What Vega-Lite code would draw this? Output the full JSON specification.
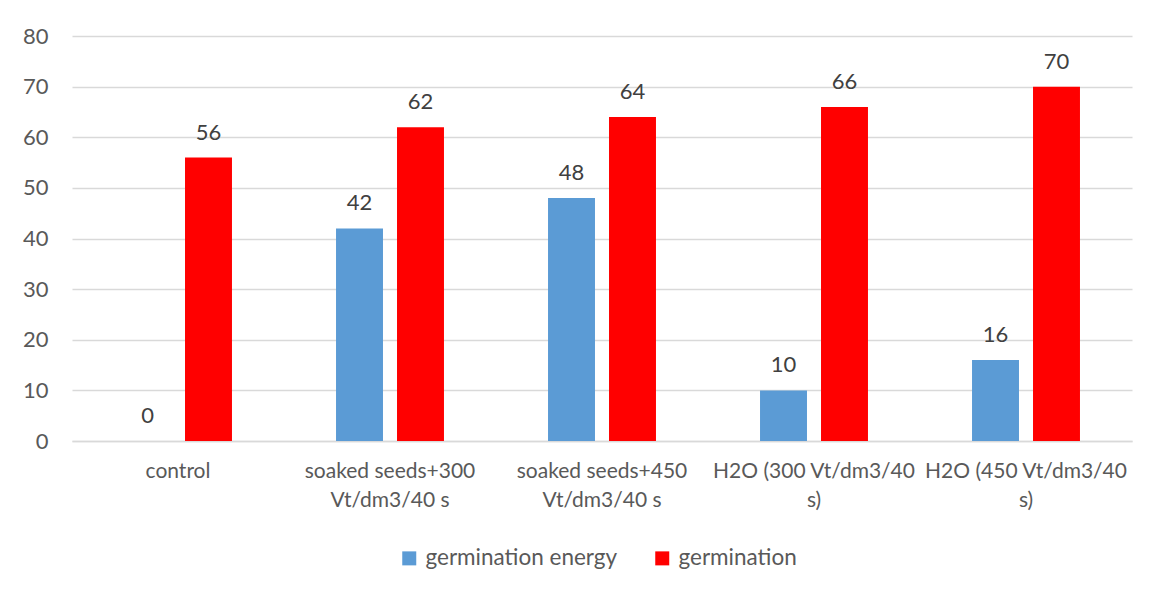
{
  "$schema": "https://vega.github.io/schema/vega-lite/v6.json",
  "autosize": "none",
  "width": 1060,
  "height": 405,
  "padding": {"left": 72, "top": 36, "right": 19, "bottom": 149},
  "background": "#ffffff",
  "data": {
    "values": [
      {"treatment": "control", "measure": "germination energy", "value": 0},
      {"treatment": "control", "measure": "germination", "value": 56},
      {"treatment": "soaked seeds+300|Vt/dm3/40 s", "measure": "germination energy", "value": 42},
      {"treatment": "soaked seeds+300|Vt/dm3/40 s", "measure": "germination", "value": 62},
      {"treatment": "soaked seeds+450|Vt/dm3/40 s", "measure": "germination energy", "value": 48},
      {"treatment": "soaked seeds+450|Vt/dm3/40 s", "measure": "germination", "value": 64},
      {"treatment": "H2O (300 Vt/dm3/40|s)", "measure": "germination energy", "value": 10},
      {"treatment": "H2O (300 Vt/dm3/40|s)", "measure": "germination", "value": 66},
      {"treatment": "H2O (450 Vt/dm3/40|s)", "measure": "germination energy", "value": 16},
      {"treatment": "H2O (450 Vt/dm3/40|s)", "measure": "germination", "value": 70}
    ]
  },
  "encoding": {
    "x": {
      "field": "treatment",
      "type": "nominal",
      "sort": ["control", "soaked seeds+300|Vt/dm3/40 s", "soaked seeds+450|Vt/dm3/40 s", "H2O (300 Vt/dm3/40|s)", "H2O (450 Vt/dm3/40|s)"],
      "scale": {"paddingInner": 0, "paddingOuter": 0},
      "axis": {
        "title": null,
        "labelAngle": 0,
        "labelExpr": "split(datum.label, '|')",
        "labelLineHeight": 29,
        "labelFont": "Lato",
        "labelFontSize": 21,
        "labelColor": "#595959",
        "labelPadding": 19,
        "labelLimit": 300,
        "ticks": false,
        "domain": true,
        "domainColor": "#D9D9D9",
        "domainWidth": 1.5,
        "grid": false
      }
    },
    "xOffset": {
      "field": "measure",
      "type": "nominal",
      "sort": ["germination energy", "germination"],
      "scale": {"paddingInner": 0.23, "paddingOuter": 0.853}
    },
    "y": {
      "field": "value",
      "type": "quantitative",
      "scale": {"domain": [0, 80], "nice": false},
      "axis": {
        "title": null,
        "values": [0, 10, 20, 30, 40, 50, 60, 70, 80],
        "labelFont": "Lato",
        "labelFontSize": 22,
        "labelColor": "#595959",
        "labelPadding": 24,
        "ticks": false,
        "domain": false,
        "grid": true,
        "gridColor": "#D9D9D9",
        "gridWidth": 1.5
      }
    }
  },
  "layer": [
    {
      "mark": {"type": "bar"},
      "encoding": {
        "color": {
          "field": "measure",
          "type": "nominal",
          "sort": ["germination energy", "germination"],
          "scale": {"domain": ["germination energy", "germination"], "range": ["#5B9BD5", "#FF0000"]},
          "legend": {
            "title": null,
            "orient": "none",
            "direction": "horizontal",
            "legendX": 326,
            "legendY": 511,
            "symbolType": "square",
            "symbolSize": 196,
            "symbolStrokeWidth": 0,
            "labelFont": "Lato",
            "labelFontSize": 22.5,
            "labelColor": "#595959",
            "labelOffset": 5,
            "columnPadding": 33,
            "labelLimit": 300
          }
        }
      }
    },
    {
      "mark": {"type": "text", "baseline": "alphabetic", "dy": -18, "font": "Lato", "fontSize": 22, "color": "#404040"},
      "encoding": {
        "text": {"field": "value", "type": "quantitative"}
      }
    }
  ],
  "config": {
    "view": {"stroke": null}
  }
}
